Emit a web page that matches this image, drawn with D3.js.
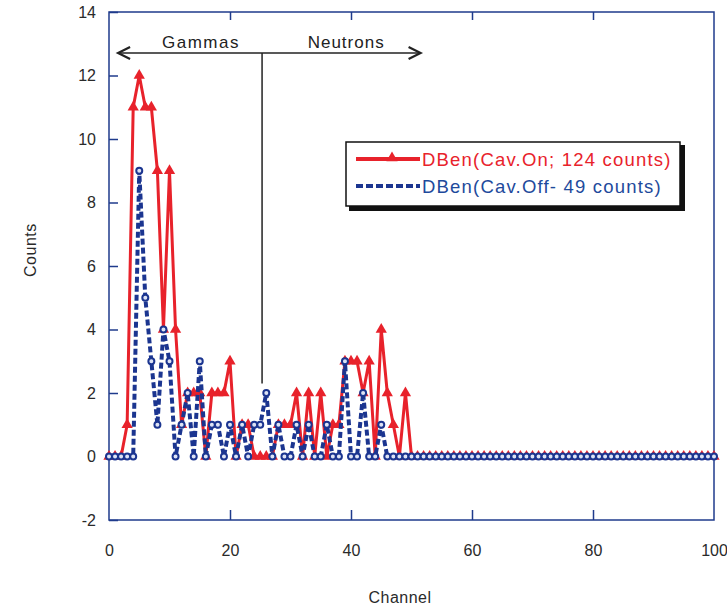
<!DOCTYPE html>
<html>
<head>
<meta charset="utf-8">
<script src="https://cdn.jsdelivr.net/npm/d3@7"></script>
<style>
  body { margin: 0; background: #fff; }
  text { font-family: "Liberation Sans", Arial, sans-serif; }
</style>
</head>
<body>
<div id="chart"></div>
<script>
// channel numbers 0..100
const channels = d3.range(0, 101)

// counts per channel (channels after the listed ones are 0)
const cavOn = [0, 0, 0, 1, 11, 12, 11, 11, 9, 4,
               9, 4, 1, 2, 2, 2, 0, 2, 2, 2,
               3, 0, 1, 1, 0, 0, 0, 0, 1, 1,
               1, 2, 0, 2, 0, 2, 0, 1, 1, 3,
               3, 3, 2, 3, 0, 4, 2, 1, 0, 2, 0]
const cavOff = [0, 0, 0, 0, 0, 9, 5, 3, 1, 4,
                3, 0, 1, 2, 0, 3, 0, 1, 1, 0,
                1, 0, 1, 0, 1, 1, 2, 0, 1, 0,
                0, 1, 0, 1, 0, 0, 1, 0, 0, 3,
                0, 0, 2, 0, 0, 1, 0, 0]

const xTicks = [0, 20, 40, 60, 80, 100]
const yTicks = [-2, 0, 2, 4, 6, 8, 10, 12, 14]
const legendLabels = ["DBen(Cav.On; 124 counts)", "DBen(Cav.Off- 49 counts)"]

const width = 727, height = 609
const margin = { left: 109, right: 13, top: 12, bottom: 89 }

const axisColor = "#1f3b8c"
const redColor = "#e8222b"
const blueColor = "#1b3590"

let svg = d3.select("#chart")
    .append("svg")
    .attr("width", width)
    .attr("height", height)

let x = d3.scaleLinear().domain([0, 100]).range([margin.left, width - margin.right])
let y = d3.scaleLinear().domain([-2, 14]).range([height - margin.bottom, margin.top])

// pad series out to channel 100
let onData = channels.map(c => ({ c: c, v: c < cavOn.length ? cavOn[c] : 0 }))
let offData = channels.map(c => ({ c: c, v: c < cavOff.length ? cavOff[c] : 0 }))

// frame
svg.append("rect")
    .attr("x", x(0)).attr("y", y(14))
    .attr("width", x(100) - x(0)).attr("height", y(-2) - y(14))
    .attr("fill", "none")
    .attr("stroke", axisColor)
    .attr("stroke-width", 1.5)

// axes with inward ticks
let plain = d => String(d)
let yAxis = d3.axisLeft(y).tickValues(yTicks).tickSize(-9).tickPadding(13).tickFormat(plain)
let gy = svg.append("g").attr("transform", `translate(${x(0)},0)`).call(yAxis)

let xAxis = d3.axisBottom(x).tickValues(xTicks).tickSize(-10).tickPadding(25).tickFormat(plain)
let gx = svg.append("g").attr("transform", `translate(0,${y(-2)})`).call(xAxis)

let xTop = d3.axisTop(x).tickValues([20, 40, 60, 80]).tickSize(-8).tickFormat("")
let gt = svg.append("g").attr("transform", `translate(0,${y(14)})`).call(xTop)

;[gx, gy, gt].forEach(g => {
    g.select(".domain").remove()
    g.selectAll(".tick line").attr("stroke", axisColor).attr("stroke-width", 1.5)
    g.selectAll(".tick text")
        .attr("fill", "#2a2a2a")
        .style("font-size", "16px")
})
gx.selectAll(".tick line").filter(d => d === 0 || d === 100).remove()

// axis titles
svg.append("text")
    .attr("x", 400).attr("y", 603)
    .attr("text-anchor", "middle")
    .attr("fill", "#2a2a2a")
    .style("font-size", "16px")
    .style("letter-spacing", "0.5px")
    .text("Channel")

svg.append("text")
    .attr("transform", `translate(36,${y(6.5)}) rotate(-90)`)
    .attr("text-anchor", "middle")
    .attr("fill", "#2a2a2a")
    .style("font-size", "16px")
    .style("letter-spacing", "0.5px")
    .text("Counts")

// series
let line = d3.line().x(d => x(d.c)).y(d => y(d.v))

svg.append("path")
    .datum(onData)
    .attr("d", line)
    .attr("fill", "none")
    .attr("stroke", redColor)
    .attr("stroke-width", 3)
    .attr("stroke-linejoin", "round")

svg.selectAll("path.tri")
    .data(onData)
    .enter()
    .append("path")
    .attr("class", "tri")
    .attr("d", d3.symbol().type(d3.symbolTriangle).size(55))
    .attr("transform", d => `translate(${x(d.c)},${y(d.v)})`)
    .attr("fill", redColor)

svg.append("path")
    .datum(offData)
    .attr("d", line)
    .attr("fill", "none")
    .attr("stroke", blueColor)
    .attr("stroke-width", 4)
    .attr("stroke-dasharray", "6,3")

svg.selectAll("circle.dot")
    .data(offData)
    .enter()
    .append("circle")
    .attr("class", "dot")
    .attr("cx", d => x(d.c))
    .attr("cy", d => y(d.v))
    .attr("r", 3)
    .attr("fill", "#dde3f5")
    .attr("stroke", blueColor)
    .attr("stroke-width", 2)

// Gammas / Neutrons annotation
let ann = svg.append("g")
let arrowY = 53
ann.append("line")
    .attr("x1", x(1.5)).attr("x2", x(51.5))
    .attr("y1", arrowY).attr("y2", arrowY)
    .attr("stroke", "#222").attr("stroke-width", 1.5)
ann.append("path")
    .attr("d", `M${x(1.5) + 12},${arrowY - 6} L${x(1.5)},${arrowY} L${x(1.5) + 12},${arrowY + 6}`)
    .attr("fill", "none").attr("stroke", "#222").attr("stroke-width", 2.2)
ann.append("path")
    .attr("d", `M${x(51.5) - 12},${arrowY - 6} L${x(51.5)},${arrowY} L${x(51.5) - 12},${arrowY + 6}`)
    .attr("fill", "none").attr("stroke", "#222").attr("stroke-width", 2.2)
ann.append("line")
    .attr("x1", x(25.3)).attr("x2", x(25.3))
    .attr("y1", arrowY).attr("y2", y(2.3))
    .attr("stroke", "#222").attr("stroke-width", 1.5)
ann.append("text")
    .attr("x", x(15.2)).attr("y", 48)
    .attr("text-anchor", "middle")
    .attr("fill", "#222")
    .style("font-size", "17px")
    .style("letter-spacing", "1.5px")
    .text("Gammas")
ann.append("text")
    .attr("x", x(39.2)).attr("y", 48)
    .attr("text-anchor", "middle")
    .attr("fill", "#222")
    .style("font-size", "17px")
    .style("letter-spacing", "1px")
    .text("Neutrons")

// legend
let lg = svg.append("g").attr("transform", "translate(346,142)")
lg.append("rect")
    .attr("x", 3).attr("y", 3).attr("width", 336).attr("height", 66)
    .attr("fill", "#111")
lg.append("rect")
    .attr("x", 0).attr("y", 0).attr("width", 334).attr("height", 64)
    .attr("fill", "#fff").attr("stroke", "#111").attr("stroke-width", 1.5)

lg.append("line")
    .attr("x1", 10).attr("x2", 74).attr("y1", 17).attr("y2", 17)
    .attr("stroke", redColor).attr("stroke-width", 4)
lg.append("path")
    .attr("d", d3.symbol().type(d3.symbolTriangle).size(55))
    .attr("transform", "translate(46,16)")
    .attr("fill", redColor)
lg.append("line")
    .attr("x1", 10).attr("x2", 74).attr("y1", 44).attr("y2", 44)
    .attr("stroke", blueColor).attr("stroke-width", 4)
    .attr("stroke-dasharray", "7,3")

lg.selectAll("text.lab")
    .data(legendLabels)
    .enter()
    .append("text")
    .attr("class", "lab")
    .attr("x", 76)
    .attr("y", (d, i) => 24 + i * 27)
    .attr("fill", (d, i) => i === 0 ? redColor : "#1e4a9c")
    .style("font-size", "18.5px")
    .style("letter-spacing", "1.2px")
    .text(d => d)
</script>
</body>
</html>
